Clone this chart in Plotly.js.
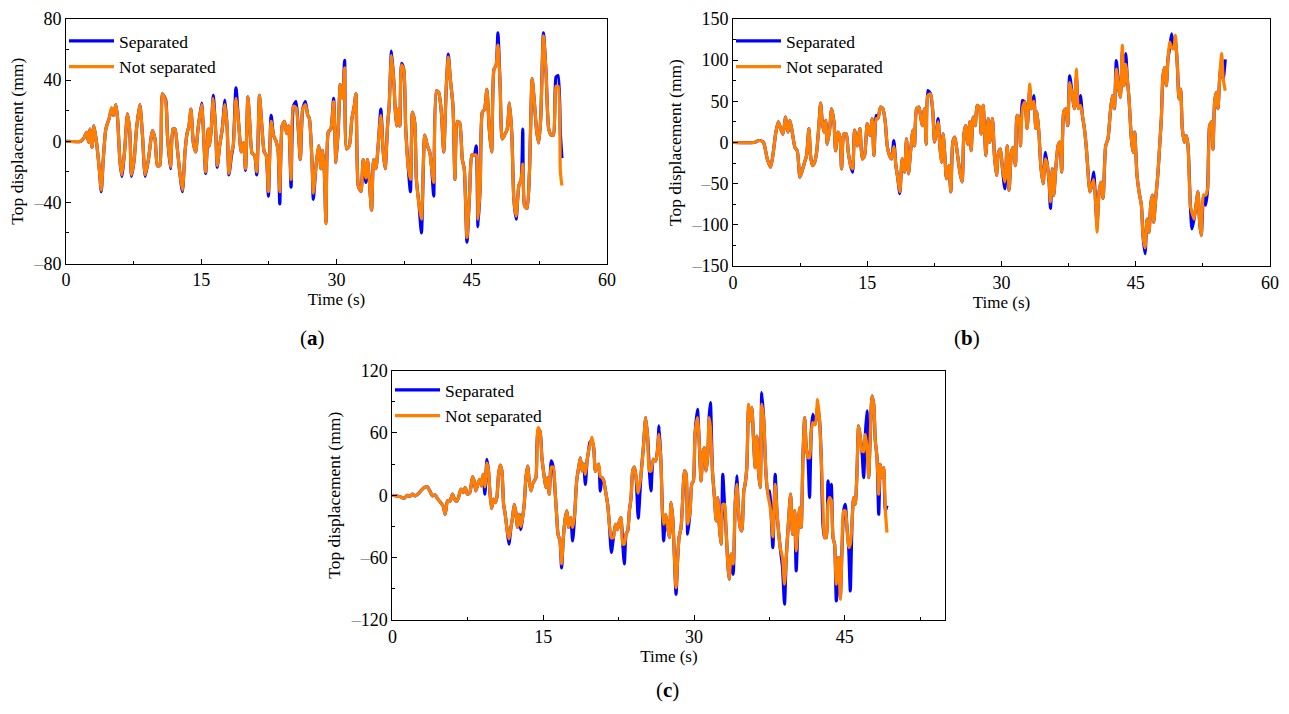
<!DOCTYPE html>
<html>
<head>
<meta charset="utf-8">
<script src="https://cdn.plot.ly/plotly-3.0.1.min.js"></script>
<style>
  html, body { margin: 0; padding: 0; background: #ffffff; }
  #chart { width: 1289px; height: 714px; }
</style>
</head>
<body>
<div id="chart"></div>
<script>
"use strict";

// (a) time history
const timeA = [0, 1.66, 2.03, 2.29, 2.51, 2.65, 2.88, 3.10, 3.39, 3.69, 3.91, 4.13, 4.42, 4.79, 5.05, 5.27, 5.53, 5.72, 5.97, 6.19, 6.49, 6.82, 7.08, 7.26, 7.56, 7.82, 8.19, 8.48, 8.78, 9.14, 9.59, 9.88, 10.14, 10.40, 10.69, 11.06, 11.25, 11.58, 11.87, 12.09, 12.35, 12.61, 12.91, 13.20, 13.42, 13.64, 13.86, 14.12, 14.38, 14.64, 15.04, 15.23, 15.49, 15.78, 15.93, 16.11, 16.33, 16.59, 16.78, 17.04, 17.33, 17.63, 17.88, 18.07, 18.36, 18.55, 18.85, 19.17, 19.43, 19.69, 19.91, 20.17, 20.35, 20.65, 20.91, 21.16, 21.46, 21.72, 21.98, 22.20, 22.45, 22.75, 23.01, 23.30, 23.52, 23.71, 23.97, 24.22, 24.48, 24.70, 24.96, 25.22, 25.51, 25.74, 25.99, 26.25, 26.55, 26.81, 26.99, 27.29, 27.43, 27.73, 28.02, 28.28, 28.47, 28.65, 28.83, 29.09, 29.38, 29.68, 29.94, 30.20, 30.42, 30.68, 30.90, 31.12, 31.42, 31.71, 31.97, 32.15, 32.41, 32.71, 32.96, 33.26, 33.44, 33.63, 33.89, 34.11, 34.37, 34.62, 34.92, 35.18, 35.40, 35.66, 35.84, 36.10, 36.39, 36.47, 36.65, 36.84, 37.02, 37.21, 37.46, 37.68, 37.94, 38.20, 38.42, 38.68, 38.86, 39.16, 39.42, 39.79, 40.08, 40.34, 40.56, 40.78, 41.08, 41.33, 41.63, 41.89, 42.18, 42.40, 42.62, 42.92, 43.14, 43.40, 43.66, 43.95, 44.17, 44.47, 44.77, 45.02, 45.28, 45.50, 45.69, 45.94, 46.17, 46.43, 46.68, 46.94, 47.20, 47.46, 47.71, 47.90, 48.15, 48.38, 48.63, 48.93, 49.19, 49.45, 49.67, 49.93, 50.22, 50.48, 50.66, 50.85, 51.14, 51.40, 51.70, 51.95, 52.21, 52.43, 52.65, 52.95, 53.24, 53.54, 53.83, 54.06, 54.35, 54.58, 54.83, 55.00];
const separatedA = [0, 0, 2.6, 5.9, -0.7, 8, -4, 10, -1, -18, -33, -12, 8, 15, 21, 17, 24, 15, -12, -23, -7, 18, 6, -23, -12, 8, 24, 4, -23, -12, 7, 1.5, -16, -16, 31, 27, 4, -18, 8, 8, -5, -20, -33, -7, 5, 10, 21, -1, -7, 8, 25, 8, -21, 8, -3, 8, 30, 8, -17, -3, 8, 27, 8, -22, -9, -3, 35, 10, -7, -1, -19, 29, 15, -8, -9, -22, 30, 10, -7, -9, -36, 17, 4, 0, -6, -41, 10, 13, 5, 10, -30, 23, 26, 10, -12, 21, 26, 17, 15, -14, -38, -16, -3, -18, -6, -20, -53, 6, 8, 28, -14, 8, 37, 28, 53, -5, -3, 15, 23, 31, -29, -33, -12, -27, -12, -25, -45, -12, -18, -3, 21, -7, -18, 10, 23, 59, 36, 25, 10, 21, 10, 51, 47, 8, -16, -33, 19, 12, -25, -42, -60, 4, -3, -7, -18, -36, 33, 32, 19, -7, 36, 57, 41, 23, -25, 13, 12, -12, -18, -66, -33, -9, -9, -3, -56, -29, 19, 21, 34, 8, -7, 47, 50, 71, 36, 1.5, 4, 8, 25, 4, -38, -51, -29, -25, 8, -42, -44, -20, 41, 25, 6, -1, 15, 71, 45, 8, 4, 4, 42, 43, 5, -11];
const notSeparatedA = [0, 0, 2.6, 5.9, -0.7, 8, -4, 10, -1, -18, -32, -12, 8, 15, 22, 17, 24, 15, -12, -22, -7, 18, 6, -22, -12, 8, 24, 4, -22, -12, 7, 1.5, -16, -16, 31, 26, 4, -17, 8, 8, -5, -20, -32, -7, 5, 10, 21, -1, -7, 8, 24, 8, -20, 8, -3, 8, 28, 8, -16, -3, 8, 24, 8, -21, -7, -3, 28, 10, -7, -1, -18, 29, 15, -8, -9, -20, 30, 10, -7, -9, -33, 13, 4, 0, -6, -33, 10, 13, 5, 10, -25, 23, 22, 10, -12, 21, 24, 17, 15, -14, -34, -16, -3, -18, -6, -20, -54, 6, 8, 26, -14, 8, 37, 28, 48, -5, -3, 15, 23, 31, -29, -33, -12, -24, -12, -25, -45, -12, -18, -3, 17, -7, -18, 10, 23, 56, 36, 25, 10, 21, 10, 50, 47, 8, -16, -25, 19, 12, -25, -42, -51, 4, -3, -7, -18, -27, 33, 32, 19, -7, 36, 55, 41, 23, -25, 13, 12, -12, -18, -63, -33, -9, -9, -9, -51, -29, 19, 21, 34, 8, -7, 47, 50, 63, 36, 1.5, 4, 8, 25, 4, -38, -49, -29, -25, -15, -42, -44, -20, 41, 25, 6, -1, 15, 69, 45, 8, 4, 4, 36, 36, -20, -29];

// (b) time history
const timeB = [0, 2.34, 2.90, 3.39, 3.83, 4.21, 4.50, 4.76, 5.06, 5.32, 5.58, 5.88, 6.14, 6.36, 6.62, 6.92, 7.18, 7.48, 7.74, 8.00, 8.22, 8.48, 8.67, 8.86, 9.12, 9.34, 9.60, 9.79, 9.97, 10.16, 10.35, 10.53, 10.79, 11.02, 11.28, 11.46, 11.72, 11.95, 12.13, 12.39, 12.65, 12.88, 13.14, 13.36, 13.58, 13.88, 14.18, 14.44, 14.70, 15.00, 15.30, 15.56, 15.74, 16.00, 16.19, 16.49, 16.75, 17.01, 17.23, 17.49, 17.71, 17.97, 18.20, 18.42, 18.64, 18.90, 19.16, 19.39, 19.61, 19.83, 20.10, 20.28, 20.51, 20.77, 20.95, 21.14, 21.40, 21.59, 21.77, 22.07, 22.33, 22.52, 22.74, 22.92, 23.11, 23.30, 23.48, 23.67, 23.85, 24.12, 24.34, 24.56, 24.79, 25.05, 25.35, 25.60, 25.79, 25.98, 26.24, 26.46, 26.61, 26.83, 27.06, 27.28, 27.54, 27.73, 27.95, 28.13, 28.25, 28.51, 28.69, 28.99, 29.21, 29.44, 29.66, 29.88, 30.11, 30.37, 30.63, 30.85, 31.11, 31.30, 31.56, 31.74, 31.97, 32.12, 32.34, 32.60, 32.86, 33.16, 33.34, 33.61, 33.83, 33.98, 34.20, 34.39, 34.65, 34.91, 35.13, 35.32, 35.47, 35.69, 35.84, 36.06, 36.32, 36.51, 36.73, 36.95, 37.18, 37.40, 37.62, 37.92, 38.15, 38.37, 38.59, 38.82, 39.04, 39.26, 39.49, 39.67, 39.86, 40.08, 40.30, 40.53, 40.68, 40.90, 41.12, 41.35, 41.64, 41.90, 42.16, 42.39, 42.61, 42.83, 43.10, 43.28, 43.50, 43.69, 43.88, 44.06, 44.25, 44.51, 44.70, 44.88, 45.14, 45.37, 45.63, 45.81, 46.04, 46.26, 46.48, 46.67, 46.85, 47.00, 47.23, 47.49, 47.67, 47.86, 48.04, 48.23, 48.42, 48.60, 48.79, 49.01, 49.24, 49.42, 49.65, 49.83, 50.02, 50.20, 50.43, 50.65, 50.84, 51.10, 51.28, 51.51, 51.69, 51.95, 52.14, 52.32, 52.58, 52.81, 53.03, 53.26, 53.48, 53.63, 53.81, 54.00, 54.19, 54.37, 54.60, 54.78, 55.00];
const separatedB = [0, 0, 2.4, 0.4, -20, -30, -12, 10.5, 25, 17, 10, 31, 12.5, 27, 12.5, -6, -10, -42, -34, -24, -16, 17, -16, -28, -24, -12, 21, 48, 25, 12.5, 27, -2, 15, 41, 25, -10, 12.5, 6.5, -32, 10.5, 10.5, -12, -28, -36, 15, -4, 17, -20, -16, 23, 8.5, 29, -16, 33, 29, 43, 41, 25, -4, -16, -20, 2.4, -28, -44, -62, -20, -36, 4.5, -38, -12, 15, -4, 41, 43, 33, 20.6, 41, -2, 63, 59, 37, 0.4, 12.5, 29, -4, -24, 10.5, -16, -44, -28, -60, 0.4, 6.5, -12, -36, -48, 8.5, 20.6, -2, 25, -10, 31, 20.6, 45, 43, 10.5, 45, 8.5, -16, 29, 0.4, 29, -16, -40, -12, -8, -32, -56, -4, -58, -12, -6, -28, 33, 29, -4, 51, 49, 17, 65, 41, 57, 17, 37, 8.5, -28, -50, -12, -28, -48, -80, -32, -64, -32, -4, 0.4, -36, 37, 41, 20.6, 81, 57, 41, 80, 41, 57, 33, 17, -8, -36, -60, -52, -36, -76, -100, -60, -48, -68, -4, 4.5, 37, 57, 41, 99.5, 65, 55, 110, 69, 108, 77, 53, 4.5, -12, 12.5, -40, -60, -76, -113, -135, -93, -109, -76, -64, -97, -68, -36, -4, 29, 81, 91, 69, 101.5, 115, 132, 114, 125, 93, 53, 65, 17, 0.4, 8.5, -4, -76, -105, -93, -80, -60, -97, -113, -64, -76, -56, 20.6, 25, -8, 49, 61, 41, 77, 100, 77, 101];
const notSeparatedB = [0, 0, 2.4, 0.4, -20, -30, -12, 10.5, 25, 17, 10, 31, 12.5, 27, 12.5, -6, -10, -42, -34, -24, -16, 17, -16, -28, -24, -12, 21, 48, 25, 12.5, 27, -2, 15, 41, 25, -10, 12.5, 6.5, -32, 10.5, 10.5, -12, -28, -32, 15, -4, 17, -20, -16, 23, 8.5, 29, -16, 29, 29, 43, 41, 25, -4, -16, -20, -5, -28, -44, -60, -20, -36, 4.5, -38, -12, 15, -4, 41, 43, 33, 20.6, 41, -2, 57, 59, 37, 0.4, 12.5, 25, -4, -24, 10.5, -16, -44, -28, -60, 0.4, 6.5, -12, -36, -48, 8.5, 20.6, -2, 25, -10, 31, 20.6, 45, 43, 10.5, 45, 8.5, -16, 29, 0.4, 29, -16, -40, -12, -8, -32, -48, -4, -58, -12, -6, -28, 33, 29, -4, 41, 49, 17, 71, 41, 50, 17, 37, 8.5, -28, -50, -20, -28, -48, -72, -32, -64, -32, -4, 0.4, -36, 37, 41, 20.6, 73, 57, 41, 89, 41, 45, 33, 17, -8, -36, -60, -52, -45, -76, -109, -60, -48, -68, -4, 4.5, 37, 57, 41, 89, 65, 55, 118, 69, 95, 77, 53, 4.5, -12, 12.5, -40, -60, -76, -113, -128, -93, -109, -76, -64, -97, -68, -36, -4, 29, 81, 91, 69, 101.5, 122, 115, 114, 130, 93, 53, 65, 17, 0.4, 8.5, -4, -76, -85, -93, -80, -60, -97, -113, -64, -64, -56, 20.6, 25, -8, 49, 61, 41, 77, 108, 77, 63];

// (c) time history
const timeC = [0, 0.83, 1.16, 1.49, 1.73, 1.99, 2.26, 2.59, 2.82, 3.15, 3.49, 3.72, 3.98, 4.25, 4.48, 4.81, 5.05, 5.25, 5.48, 5.71, 5.98, 6.18, 6.37, 6.57, 6.81, 7.04, 7.24, 7.47, 7.70, 7.97, 8.13, 8.30, 8.53, 8.70, 8.86, 9.03, 9.20, 9.40, 9.56, 9.69, 9.86, 10.06, 10.23, 10.39, 10.56, 10.72, 10.89, 11.06, 11.22, 11.42, 11.59, 11.79, 11.95, 12.12, 12.28, 12.45, 12.62, 12.78, 12.95, 13.11, 13.28, 13.45, 13.61, 13.78, 13.94, 14.11, 14.28, 14.48, 14.67, 14.87, 15.11, 15.27, 15.44, 15.60, 15.80, 16.00, 16.20, 16.33, 16.47, 16.67, 16.83, 17.00, 17.20, 17.36, 17.53, 17.73, 17.93, 18.13, 18.33, 18.53, 18.69, 18.86, 19.02, 19.19, 19.36, 19.52, 19.65, 19.85, 20.02, 20.19, 20.35, 20.52, 20.68, 20.85, 21.02, 21.25, 21.41, 21.58, 21.78, 21.98, 22.18, 22.38, 22.58, 22.74, 22.91, 23.07, 23.24, 23.41, 23.57, 23.74, 23.90, 24.07, 24.24, 24.45, 24.73, 24.96, 25.19, 25.39, 25.56, 25.72, 25.95, 26.19, 26.39, 26.52, 26.72, 26.85, 26.98, 27.18, 27.38, 27.55, 27.71, 27.88, 28.05, 28.21, 28.38, 28.51, 28.71, 28.88, 29.04, 29.21, 29.37, 29.61, 29.77, 29.94, 30.10, 30.34, 30.54, 30.70, 30.87, 31.03, 31.20, 31.37, 31.50, 31.63, 31.83, 32.03, 32.20, 32.36, 32.53, 32.69, 32.86, 33.03, 33.19, 33.36, 33.49, 33.69, 33.89, 34.09, 34.25, 34.42, 34.59, 34.75, 34.95, 35.08, 35.25, 35.42, 35.58, 35.75, 35.91, 36.08, 36.25, 36.41, 36.58, 36.74, 36.94, 37.14, 37.34, 37.51, 37.67, 37.84, 38.07, 38.24, 38.40, 38.57, 38.80, 39.00, 39.17, 39.40, 39.60, 39.80, 40.00, 40.16, 40.33, 40.50, 40.66, 40.83, 41.00, 41.16, 41.33, 41.49, 41.66, 41.82, 42.06, 42.29, 42.49, 42.65, 42.82, 42.99, 43.15, 43.32, 43.48, 43.65, 43.82, 43.98, 44.15, 44.38, 44.55, 44.71, 44.88, 45.04, 45.21, 45.38, 45.54, 45.71, 45.87, 46.04, 46.21, 46.37, 46.54, 46.70, 46.87, 47.04, 47.20, 47.37, 47.53, 47.70, 47.87, 48.03, 48.20, 48.37, 48.53, 48.70, 48.86, 49.03, 49.19];
const separatedC = [0, -1.6, -3, 0, -1, 1, -0.6, 1.6, 4.2, 7.4, 8, 4.2, -0.6, 0.3, -3.2, -7.1, -10.3, -18.3, -5.4, -6, 1, -3.8, -6, -2.2, 5.8, 2.6, 7.4, 1, 2.6, 17.6, 13.8, 4.2, 12.2, 15.4, 9, 20.2, 1, 34.6, 23.4, 4.2, -12.8, -3.8, -7.1, -2.2, 20.2, 29, 23.4, -8.7, -18.3, -34.3, -47, -31, -21.5, -8.7, -16.7, -31, -18.3, -33, -21.5, -8.7, 17, 28, 13.8, 4.2, 10.6, 13.8, 17, 62, 62, 36, 17, 7.4, 17, 1, 33, 27, 1, -18.3, -37.5, -44, -70, -40.7, -21.5, -15, -31, -21.5, -44, -18.3, 14, 27, 36, 23.4, 30, 10.5, 33, 43, 51, 52, 46, 23, 26.6, 30, 4, 17, 13.8, 1, -8.7, -28, -55, -40.7, -28, -33, -24.7, -21.5, -47, -66, -37.5, -34, -15, -2.2, 23.4, 27, 17, -22, 20.2, 45.8, 74.7, 55.4, 23.4, 4.2, 34.6, 33, 45.8, 66.7, 29.8, -15.1, -43.9, -18.3, -31.1, -40.7, -7.1, -21.5, -59.9, -95.2, -59.9, -40.7, -31.1, -2.2, 23.4, 20.2, -37.5, -15.1, 10.6, 13.8, 58.7, 82.7, 45.8, 13.8, 39.4, 45.8, 23.4, 39.4, 74.7, 89.1, 23.4, -2.2, -24.7, -2.2, -31.1, -47.1, 20.2, -8.7, -34.3, -66.3, -80.8, -56.7, -76, -8.7, 18.6, -15.1, -31.1, -34.3, 4.2, 10.6, 26.6, 82.7, 71.5, 84.3, 55.4, 26.6, 57, 23.4, 7.4, 98.7, 71.5, 23.4, 1, 4.2, -18.3, -50.3, 20.2, -15.1, -34.3, -50.3, -69.6, -104.8, -59.9, -24.7, 1, -37.5, -15.1, -72.8, -31.1, -11.9, -31.1, 36.2, 74.7, 45.8, 36.2, -2.2, 61.9, 77.9, 67.9, 85, 71.5, 36.2, -27.9, -40.7, -40.7, 13.8, -2.2, 10.6, -40.7, -47.1, -101.6, -59.9, -98, -53.5, -15.1, -8.7, -31.1, -50.3, -92, -27.9, -2.2, -8.7, 23.4, 66.7, 55.4, 42.6, 17, 58.7, 81.1, 17, 58.7, 95.5, 87.5, 52.2, 36.2, -18.3, 29.8, 17, 26.6, -15.1, -10];
const notSeparatedC = [0, -1.6, -3, 0, -1, 1, -0.6, 1.6, 4.2, 7.4, 8, 4.2, -0.6, 0.3, -3.2, -7.1, -10.3, -18.3, -5.4, -6, 1, -3.8, -6, -2.2, 5.8, 2.6, 7.4, 1, 2.6, 17.6, 13.8, 4.2, 12.2, 15.4, 9, 20.2, 8, 31, 23.4, 4.2, -12.8, -3.8, -7.1, -2.2, 20.2, 29, 23.4, -8.7, -18.3, -34.3, -42, -31, -21.5, -8.7, -16.7, -31, -18.3, -30, -21.5, -8.7, 17, 28, 13.8, 4.2, 10.6, 13.8, 17, 65, 62, 36, 17, 7.4, 17, 1, 27, 27, 1, -18.3, -37.5, -44, -66, -40.7, -21.5, -15, -31, -21.5, -31, -18.3, 14, 27, 36, 23.4, 30, 20, 33, 43, 48, 56, 46, 23, 26.6, 30, 18, 17, 13.8, 1, -8.7, -28, -41, -40.7, -28, -33, -24.7, -21.5, -47, -47, -37.5, -34, -15, -2.2, 23.4, 27, 17, 2, 20.2, 45.8, 74.7, 55.4, 23.4, 23.4, 34.6, 33, 45.8, 58.7, 29.8, -15.1, -27.9, -18.3, -31.1, -40.7, -7.1, -21.5, -59.9, -88.8, -59.9, -40.7, -31.1, -2.2, 23.4, 20.2, -27.9, -15.1, 10.6, 13.8, 58.7, 74.7, 45.8, 13.8, 39.4, 45.8, 23.4, 39.4, 74.7, 65.1, 23.4, -2.2, -24.7, -2.2, -31.1, -47.1, -8.7, -8.7, -34.3, -66.3, -80.8, -56.7, -66.3, -8.7, 10.6, -15.1, -31.1, -34.3, 4.2, 10.6, 26.6, 87.5, 71.5, 84.3, 55.4, 26.6, 57, 23.4, 7.4, 87.5, 71.5, 23.4, 1, -8, -18.3, -40, 10.6, -15.1, -34.3, -50.3, -59.9, -85.6, -59.9, -24.7, 1, -37.5, -15.1, -53.5, -31.1, -11.9, -31.1, 36.2, 74.7, 45.8, 36.2, 36, 61.9, 70, 67.9, 92.3, 71.5, 36.2, -8.7, -40.7, -40.7, -8.7, -2.2, -5, -40.7, -47.1, -85.6, -59.9, -100, -53.5, -15.1, -15, -31.1, -50.3, -47.1, -27.9, -2.2, -8.7, 23.4, 66.7, 55.4, 42.6, 42, 58.7, 45.8, 17, 58.7, 95.5, 87.5, 52.2, 36.2, 1, 29.8, 17, 26.6, -15.1, -36];

const seriesNames = ["Separated", "Not separated"];
const seriesColors = ["#0000ff", "#ff8000"];

const xTicksAB = [0, 15, 30, 45, 60];
const xTicksC = [0, 15, 30, 45];
const yTicksA = [-80, -40, 0, 40, 80];
const yTicksB = [-150, -100, -50, 0, 50, 100, 150];
const yTicksC = [-120, -60, 0, 60, 120];

const W = 1289;
const H = 714;
const serif = "\"Liberation Serif\", \"Times New Roman\", serif";

// negative tick labels use a grey dash, as in the source figure
const tickLabel = (v) => (v < 0
    ? "<span style=\"color:#9a9a9a\">\u2013</span>" + Math.abs(v)
    : String(v));

document.addEventListener("DOMContentLoaded", () => {
    const panels = [
        { time: timeA, sep: separatedA, notSep: notSeparatedA },
        { time: timeB, sep: separatedB, notSep: notSeparatedB },
        { time: timeC, sep: separatedC, notSep: notSeparatedC },
    ];

    const traces = [];
    panels.forEach((panel, index) => {
        const suffix = index === 0 ? "" : String(index + 1);
        [panel.sep, panel.notSep].forEach((values, k) => {
            traces.push({
                type: "scatter",
                mode: "lines",
                name: seriesNames[k],
                x: panel.time,
                y: values,
                xaxis: "x" + suffix,
                yaxis: "y" + suffix,
                legend: "legend" + suffix,
                line: { color: seriesColors[k], width: 3.2, shape: "spline", smoothing: 0.6 },
                hoverinfo: "skip",
            });
        });
    });

    // pixel box -> paper domain
    const xDom = (left, right) => [left / W, right / W];
    const yDom = (top, bottom) => [(H - bottom) / H, (H - top) / H];

    const axisStyle = {
        showline: true,
        linecolor: "#000000",
        linewidth: 1,
        mirror: true,
        ticks: "inside",
        ticklen: 5,
        tickwidth: 1,
        tickcolor: "#000000",
        showgrid: false,
        zeroline: false,
        tickfont: { family: serif, size: 18, color: "#000000" },
    };

    const xAxis = (domain, anchor, range, tickvals) => ({
        ...axisStyle,
        domain: domain,
        anchor: anchor,
        range: range,
        tickmode: "array",
        tickvals: tickvals,
        ticktext: tickvals.map(tickLabel),
        minor: { ticks: "inside", ticklen: 3, tickcolor: "#000000", dtick: 7.5, tick0: 0 },
        title: { text: "Time (s)", font: { family: serif, size: 17 }, standoff: 1 },
    });

    const yAxis = (domain, anchor, range, tickvals, minorStep) => ({
        ...axisStyle,
        domain: domain,
        anchor: anchor,
        range: range,
        tickmode: "array",
        tickvals: tickvals,
        ticktext: tickvals.map(tickLabel),
        minor: { ticks: "inside", ticklen: 3, tickcolor: "#000000", dtick: minorStep, tick0: 0 },
        title: { text: "Top displacement (mm)", font: { family: serif, size: 17.5 }, standoff: 5 },
    });

    const legendStyle = (left, top) => ({
        x: left / W,
        y: (H - top) / H,
        xanchor: "left",
        yanchor: "top",
        bgcolor: "rgba(0,0,0,0)",
        borderwidth: 0,
        font: { family: serif, size: 17.5, color: "#000000" },
        tracegroupgap: 0,
        itemwidth: 45,
    });

    const caption = (letter, cx, cy) => ({
        text: "(<b>" + letter + "</b>)",
        xref: "paper",
        yref: "paper",
        x: cx / W,
        y: (H - cy) / H,
        xanchor: "center",
        yanchor: "middle",
        showarrow: false,
        font: { family: serif, size: 21, color: "#000000" },
    });

    const layout = {
        width: W,
        height: H,
        margin: { l: 0, r: 0, t: 0, b: 0 },
        paper_bgcolor: "#ffffff",
        plot_bgcolor: "#ffffff",
        font: { family: serif, color: "#000000" },
        showlegend: true,
        xaxis: xAxis(xDom(66, 607), "y", [0, 60], xTicksAB),
        yaxis: yAxis(yDom(19, 263.5), "x", [-80, 80], yTicksA, 20),
        xaxis2: xAxis(xDom(733, 1270), "y2", [0, 60], xTicksAB),
        yaxis2: yAxis(yDom(19, 266), "x2", [-150, 150], yTicksB, 25),
        xaxis3: xAxis(xDom(392.4, 945.4), "y3", [0, 55], xTicksC),
        yaxis3: yAxis(yDom(370.5, 620), "x3", [-120, 120], yTicksC, 30),
        legend: legendStyle(64, 23),
        legend2: legendStyle(731, 23),
        legend3: legendStyle(390, 372),
        annotations: [
            caption("a", 312, 338),
            caption("b", 967, 338),
            caption("c", 667, 690),
        ],
    };

    Plotly.newPlot("chart", traces, layout, {
        displayModeBar: false,
        staticPlot: true,
    });
});
</script>
</body>
</html>
